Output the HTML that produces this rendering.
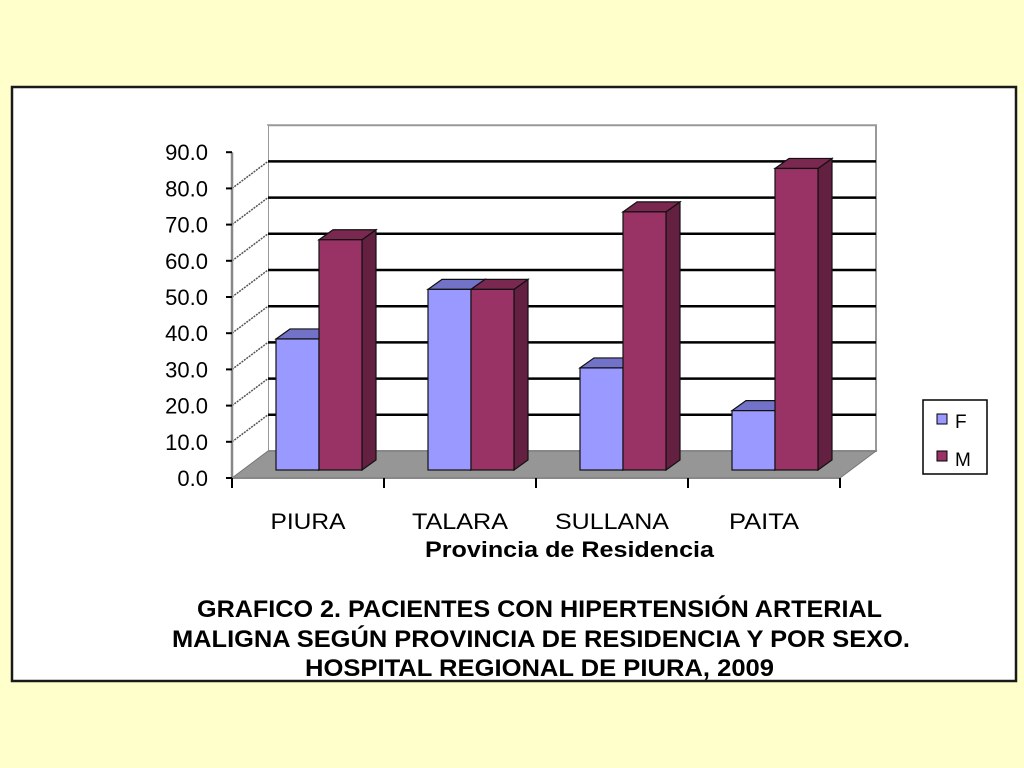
<!DOCTYPE html>
<html><head><meta charset="utf-8"><style>
html,body{margin:0;padding:0;background:#ffffcc;}
svg{display:block;}
text{font-family:"Liberation Sans",sans-serif;fill:#000;}
</style></head><body>
<svg id="chart" width="1024" height="768" viewBox="0 0 1024 768" xmlns="http://www.w3.org/2000/svg">
<rect x="0" y="0" width="1024" height="768" fill="#ffffcc"/>
<rect x="12" y="87" width="1004" height="594" fill="#fff" stroke="#1a1a1a" stroke-width="2.5"/>
<g id="plot"></g>
<g>
<rect x="923" y="400" width="64" height="74" fill="#fff" stroke="#000" stroke-width="1.5"/>
<rect x="937" y="414" width="10" height="10" fill="#9999ff" stroke="#000"/>
<text x="955" y="428" font-size="19">F</text>
<rect x="937" y="451" width="10" height="10" fill="#993366" stroke="#000"/>
<text x="955" y="466" font-size="19">M</text>
</g>
<text x="425" y="557" font-size="22" font-weight="bold" textLength="289" lengthAdjust="spacingAndGlyphs">Provincia de Residencia</text>
<text x="197" y="617" font-size="24" font-weight="bold" textLength="685" lengthAdjust="spacingAndGlyphs">GRAFICO 2. PACIENTES CON HIPERTENSIÓN ARTERIAL</text>
<text x="172" y="647" font-size="24" font-weight="bold" textLength="738" lengthAdjust="spacingAndGlyphs">MALIGNA SEGÚN PROVINCIA DE RESIDENCIA Y POR SEXO.</text>
<text x="305" y="676" font-size="24" font-weight="bold" textLength="469" lengthAdjust="spacingAndGlyphs">HOSPITAL REGIONAL DE PIURA, 2009</text>
</svg>
<script>
const categories = ["PIURA", "TALARA", "SULLANA", "PAITA"];
const seriesF = [36.2, 49.9, 28.2, 16.4];
const seriesM = [63.6, 49.9, 71.3, 83.3];
const yTicks = [0, 10, 20, 30, 40, 50, 60, 70, 80, 90];
const yTickLabels = ["0.0","10.0","20.0","30.0","40.0","50.0","60.0","70.0","80.0","90.0"];
const catLabelWidths = [75, 96, 114, 70];

const NS = "http://www.w3.org/2000/svg";
const plot = document.getElementById("plot");
function mk(tag, attrs, parent) {
  const e = document.createElementNS(NS, tag);
  for (const k in attrs) e.setAttribute(k, attrs[k]);
  (parent || plot).appendChild(e);
  return e;
}
// geometry
const X0 = 232, Y0 = 478, PX = 36.2 / 10; // front axis
const DX = 36, DY = -27; // depth
const yMax = 90;
const catW = 152;
function yFront(v) { return Y0 - v * PX; }
function catX(i) { return X0 + i * catW; }

// back wall
const wall = mk("polygon", {points: `${X0+DX},${yFront(0)+DY} ${X0+DX},${yFront(yMax)+DY} ${X0+DX+4*catW},${yFront(yMax)+DY} ${X0+DX+4*catW},${yFront(0)+DY}`, fill: "#fff", stroke: "#999", "stroke-width": 2});


// side wall
const side = mk("polygon", {points: `${X0},${yFront(0)} ${X0},${yFront(yMax)} ${X0+DX},${yFront(yMax)+DY} ${X0+DX},${yFront(0)+DY}`, fill: "#fff", stroke: "none"});


// gridlines
yTicks.forEach((v, i) => {
  if (v === 0 || v === yMax) return;
  const y = yFront(v) + DY;
  const g = mk("line", {x1: X0 + DX, y1: y, x2: X0 + DX + 4 * catW, y2: y, stroke: "#000", "stroke-width": 2.5});
  
  
  const d = mk("line", {x1: X0, y1: yFront(v), x2: X0 + DX, y2: y, stroke: "#555", "stroke-width": 1.5, "stroke-dasharray": "2 1"});
  
  
});
// floor
const floor = mk("polygon", {points: `${X0},${yFront(0)} ${X0+DX},${yFront(0)+DY} ${X0+DX+4*catW},${yFront(0)+DY} ${X0+4*catW},${yFront(0)}`, fill: "#969696", stroke: "#777", "stroke-width": 1});



// bars
const barW = 43, bDX = 14, bDY = -10, zOff = 9, zOffY = -8;
function drawBar(x, v, front, top, sideC, name) {
  const yb = yFront(0) + zOffY, yt = yb - v * PX;
  const g = mk("g", {});
  
  
  mk("polygon", {points: `${x+barW},${yb} ${x+barW+bDX},${yb+bDY} ${x+barW+bDX},${yt+bDY} ${x+barW},${yt}`, fill: sideC, stroke: "#111", "stroke-width": 1.2}, g);
  mk("polygon", {points: `${x},${yt} ${x+bDX},${yt+bDY} ${x+barW+bDX},${yt+bDY} ${x+barW},${yt}`, fill: top, stroke: "#111", "stroke-width": 1.2}, g);
  mk("rect", {x: x, y: yt, width: barW, height: yb - yt, fill: front, stroke: "#111", "stroke-width": 1.2}, g);
}
categories.forEach((c, i) => {
  const bx = catX(i) + 44;
  drawBar(bx, seriesF[i], "#9999ff", "#7272c8", "#5c5cb0", "bar-f-" + c.toLowerCase());
  drawBar(bx + barW, seriesM[i], "#993366", "#7a2850", "#632040", "bar-m-" + c.toLowerCase());
});

// y axis
const ax = mk("line", {x1: X0, y1: yFront(0), x2: X0, y2: yFront(yMax), stroke: "#888", "stroke-width": 2.5});


yTicks.forEach((v, i) => {
  const t = mk("line", {x1: X0 - 6, y1: yFront(v), x2: X0, y2: yFront(v), stroke: "#000", "stroke-width": 2});
  
  
  const l = mk("text", {x: 208, y: yFront(v) + 8, "font-size": 22, "text-anchor": "end"});
  
  
  l.textContent = yTickLabels[i];
});
// x axis
const xa = mk("line", {x1: X0, y1: yFront(0), x2: X0 + 4 * catW, y2: yFront(0), stroke: "#888", "stroke-width": 2});


for (let i = 0; i <= categories.length; i++) {
  const t = mk("line", {x1: catX(i), y1: yFront(0), x2: catX(i), y2: yFront(0) + 10, stroke: "#000", "stroke-width": 2});
  
  
}
categories.forEach((c, i) => {
  const l = mk("text", {x: catX(i) + catW / 2 - 健(0), y: 529, "font-size": 22, "text-anchor": "middle", textLength: catLabelWidths[i], lengthAdjust: "spacingAndGlyphs"});
  
  
  l.textContent = c;
});
function 健(n) { return n; }
</script>
</body></html>
